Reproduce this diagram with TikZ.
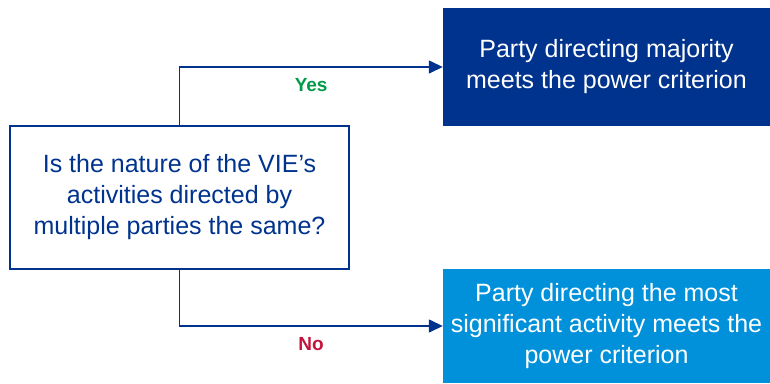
\documentclass[tikz,border=0pt]{standalone}
\usepackage{fontspec}
\setmainfont{Liberation Sans}
\usetikzlibrary{arrows.meta, positioning}
\definecolor{deepblue}{RGB}{0, 51, 141}
\definecolor{midblue}{RGB}{0, 145, 218}
\definecolor{yesgreen}{RGB}{0, 155, 72}
\definecolor{nored}{RGB}{195, 20, 60}
\tikzset{
  question/.style={draw=deepblue, line width=1.2pt, fill=white, text=deepblue, align=center,
    minimum width=339pt, minimum height=143pt, inner sep=0pt, font=\fontsize{25}{31}\selectfont},
  outcome/.style={fill=#1, text=white, align=center, minimum width=327pt, inner sep=0pt,
    font=\fontsize{25}{31}\selectfont},
  branch/.style={draw=deepblue, line width=1.4pt, -{Triangle[length=14pt, width=13pt]}},
  answer/.style={font=\bfseries\fontsize{19}{22}\selectfont, text=#1}
}

\begin{document}
\begin{tikzpicture}[x=1pt, y=1pt]
  \useasboundingbox (0,0) rectangle (770,383);
  \node[question] (vie) at (179.5,185.5) {Is the nature of the VIE's\\activities directed by\\multiple parties the same?};
  \node[outcome=deepblue, minimum height=118pt] (majority) at (606.5,316) {Party directing majority\\meets the power criterion};
  \node[outcome=midblue, minimum height=114pt] (significant) at (606.5,57) {Party directing the most\\significant activity meets the\\power criterion};
  \draw[branch] (vie.north) |- node[pos=0.75, below=7pt, answer=yesgreen] {Yes} (majority.west);
  \draw[branch] (vie.south) |- node[pos=0.75, below=7pt, answer=nored] {No} (significant.west);
\end{tikzpicture}
\end{document}
